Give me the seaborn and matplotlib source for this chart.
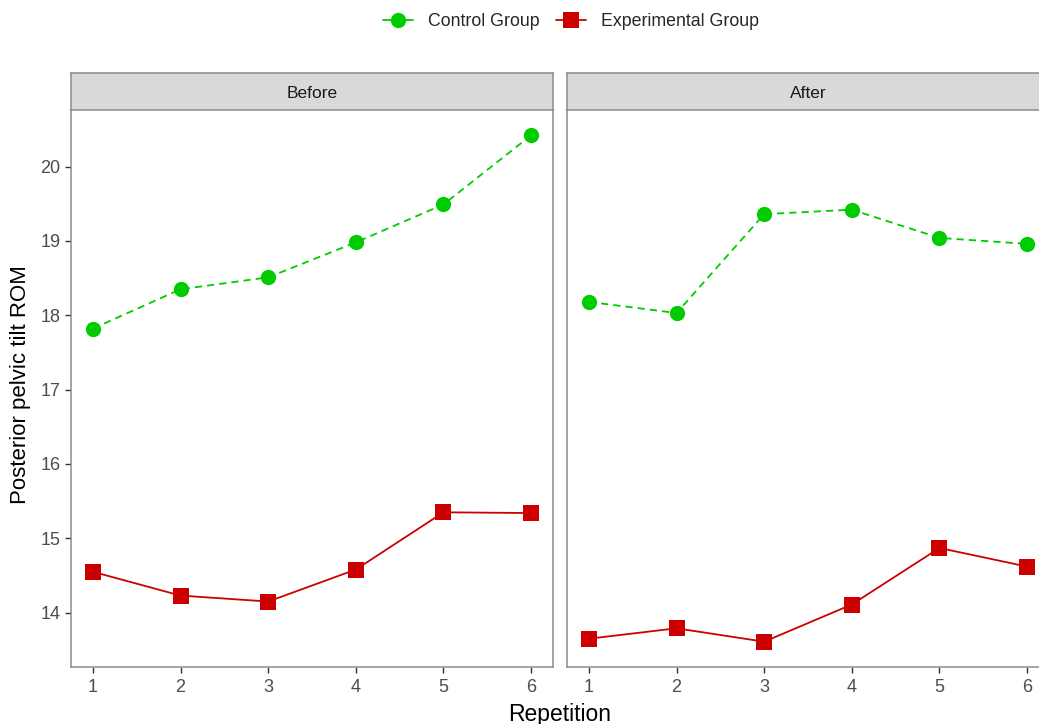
import numpy as np
import pandas as pd
import matplotlib
matplotlib.use("Agg")
import matplotlib.pyplot as plt
from matplotlib.lines import Line2D
import seaborn as sns

repetitions = [1, 2, 3, 4, 5, 6]
phases = ["Before", "After"]
groups = ["Control Group", "Experimental Group"]

control_before = [17.82, 18.35, 18.51, 18.98, 19.49, 20.42]
experimental_before = [14.55, 14.23, 14.15, 14.58, 15.35, 15.34]
control_after = [18.18, 18.03, 19.36, 19.42, 19.04, 18.96]
experimental_after = [13.65, 13.79, 13.61, 14.11, 14.87, 14.62]

y_ticks = [14, 15, 16, 17, 18, 19, 20]

rows = []
for phase, ctrl, expt in [("Before", control_before, experimental_before),
                          ("After", control_after, experimental_after)]:
    for r, c, e in zip(repetitions, ctrl, expt):
        rows.append({"Phase": phase, "Repetition": r, "Group": "Control Group", "ROM": c})
        rows.append({"Phase": phase, "Repetition": r, "Group": "Experimental Group", "ROM": e})
df = pd.DataFrame(rows)

sns.set_theme(style="white")
plt.rcParams["font.family"] = ["Liberation Sans", "DejaVu Sans"]

palette = {"Control Group": "#00CC00", "Experimental Group": "#CC0000"}
markers = {"Control Group": "o", "Experimental Group": "s"}
dashes = {"Control Group": (4, 2.8), "Experimental Group": ""}

W, H = 1039, 724
fig = plt.figure(figsize=(W / 100, H / 100), dpi=100)

panel_left = [71, 567]
panel_w = 482
panel_top, panel_bottom = 110, 667
strip_top = 73

border_col = "#8c8c8c"
all_vals = control_before + experimental_before + control_after + experimental_after
lo, hi = min(all_vals), max(all_vals)
pad = (hi - lo) * 0.05

for i, phase in enumerate(phases):
    x0 = panel_left[i]
    ax = fig.add_axes([x0 / W, (H - panel_bottom) / H, panel_w / W,
                       (panel_bottom - panel_top) / H])
    sub = df[df["Phase"] == phase]
    sns.lineplot(data=sub, x="Repetition", y="ROM", hue="Group", style="Group",
                 palette=palette, markers=markers, dashes=dashes,
                 markersize=11, linewidth=1.3, markeredgewidth=0,
                 ax=ax, legend=False)
    ax.set_xlim(0.75, 6.25)
    ax.set_ylim(lo - pad, hi + pad)
    ax.set_xticks(repetitions)
    ax.set_yticks(y_ticks)
    ax.set_xlabel("")
    ax.set_ylabel("")
    ax.tick_params(axis="both", length=4, width=1, color="#333333",
                   labelsize=13, labelcolor="#4d4d4d",
                   bottom=True, left=True)
    ax.tick_params(axis="y", pad=3.6)
    ax.tick_params(axis="x", pad=4.5)
    if i == 1:
        ax.tick_params(axis="y", left=False, labelleft=False)
    for s in ax.spines.values():
        s.set_color(border_col)
        s.set_linewidth(1.1)
    ax.spines["top"].set_visible(False)

    sax = fig.add_axes([x0 / W, (H - panel_top) / H, panel_w / W,
                        (panel_top - strip_top) / H])
    sax.set_facecolor("#d9d9d9")
    sax.set_xticks([])
    sax.set_yticks([])
    for s in sax.spines.values():
        s.set_color(border_col)
        s.set_linewidth(1.1)
    sax.text(0.5, 0.45, phase, ha="center", va="center", fontsize=12.5,
             color="#1a1a1a", transform=sax.transAxes)

fig.text(21 / W, (H - 385) / H, "Posterior pelvic tilt ROM", rotation=90,
         ha="center", va="center", fontsize=16, color="black")
fig.text(560 / W, (H - 721) / H, "Repetition", ha="center", va="baseline",
         fontsize=16.5, color="black")

handles = [Line2D([0], [0], color=palette[g], marker=markers[g], markersize=11,
                  markeredgewidth=0, linewidth=1.3) for g in groups]
fig.legend(handles, groups, loc="center", ncol=2,
           bbox_to_anchor=(571 / W, (H - 22) / H), frameon=False,
           fontsize=12.8, handlelength=1.7, handletextpad=0.85, columnspacing=0.9)

fig.savefig("out.png", dpi=100)
